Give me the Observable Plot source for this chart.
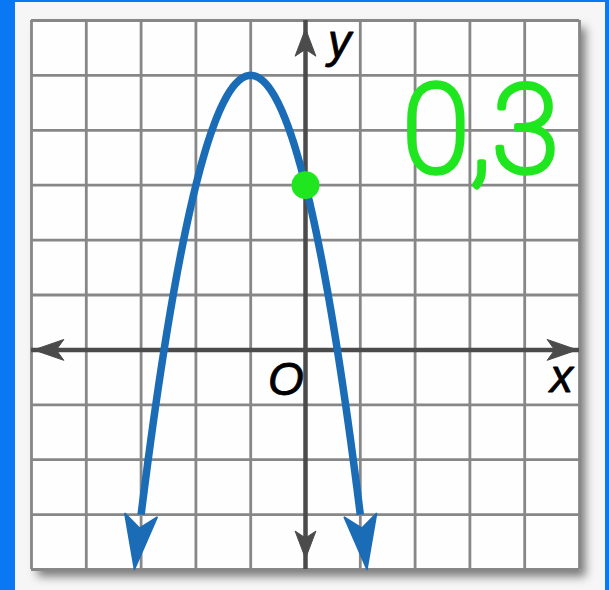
<!DOCTYPE html>
<html>
<head>
<meta charset="utf-8">
<script src="https://cdn.jsdelivr.net/npm/d3@7"></script>
<script src="https://cdn.jsdelivr.net/npm/@observablehq/plot@0.6"></script>
<style>
  html, body { margin: 0; padding: 0; background: #f6f6f6; }
  #wrap { position: relative; width: 609px; height: 590px; overflow: hidden; }
  #edge {
    position: absolute; left: 0; top: 0; width: 609px; height: 590px;
    box-sizing: border-box; pointer-events: none;
    border-left: 15px solid #0a78f2; border-top: 2px solid #0a78f2; border-right: 4px solid #0a78f2;
  }
  #wrap svg { display: block; }
</style>
</head>
<body>
<div id="wrap"><div id="edge"></div></div>
<script>
// Unit grid of the coordinate plane
const gridXValues = [-5, -4, -3, -2, -1, 0, 1, 2, 3, 4, 5];
const gridYValues = [-4, -3, -2, -1, 0, 1, 2, 3, 4, 5, 6];

// Parabola y = a·x² + b·x + c
const coefA = -2, coefB = -4, coefC = 3;
// The curve is drawn down to this y, then finished by arrowheads down to tipY
const curveEndY = -3;
const tipY = -4;

// Point marked on the graph (the y-intercept)
const markedPoint = [0, 3];

// Axis arrow tips: [x, y] pairs
const axisTipsX = [[-4.96, 0], [4.96, 0]];
const axisTipsY = [[0, 5.85], [0, -3.8]];

// Axis letters
const axisLetters = ["x", "y", "O"];

const f = (x) => coefA * x * x + coefB * x + coefC;
// both x where f(x) = level
function rootsAt(level) {
  const disc = Math.sqrt(coefB * coefB - 4 * coefA * (coefC - level));
  const r1 = (-coefB + disc) / (2 * coefA), r2 = (-coefB - disc) / (2 * coefA);
  return [Math.min(r1, r2), Math.max(r1, r2)];
}

const [xStart, xEnd] = rootsAt(curveEndY);
const [tipLeftX, tipRightX] = rootsAt(tipY);

const curvePts = d3.range(0, 401).map(i => {
  const x = xStart + (xEnd - xStart) * i / 400;
  return {x, y: f(x)};
});

// Notched arrowhead outline from base point toward tip (data units; the plane is square)
function arrowHead(id, base, tip, len, halfW, notch) {
  const dx = tip[0] - base[0], dy = tip[1] - base[1];
  const d = Math.hypot(dx, dy);
  const ux = dx / d, uy = dy / d, px = -uy, py = ux;
  const bx = tip[0] - ux * len, by = tip[1] - uy * len;
  const nx = tip[0] - ux * len * (1 - notch), ny = tip[1] - uy * len * (1 - notch);
  return [
    {id, x: tip[0], y: tip[1]},
    {id, x: bx + px * halfW, y: by + py * halfW},
    {id, x: nx, y: ny},
    {id, x: bx - px * halfW, y: by - py * halfW},
    {id, x: tip[0], y: tip[1]}
  ];
}

const curveArrows = [
  ...arrowHead("L", [xStart, curveEndY], [tipLeftX, tipY], 1.0, 0.3, 0.24),
  ...arrowHead("R", [xEnd, curveEndY], [tipRightX, tipY], 1.0, 0.3, 0.24)
];

const axisArrows = [
  ...arrowHead("xl", [0, 0], axisTipsX[0], 0.55, 0.19, 0.25),
  ...arrowHead("xr", [0, 0], axisTipsX[1], 0.55, 0.19, 0.25),
  ...arrowHead("yt", [0, 0], axisTipsY[0], 0.5, 0.19, 0.25),
  ...arrowHead("yb", [0, 0], axisTipsY[1], 0.5, 0.19, 0.25)
];

const letterSpots = [
  {t: axisLetters[0], x: 4.67, y: -0.49},
  {t: axisLetters[1], x: 0.62, y: 5.61},
  {t: axisLetters[2], x: -0.36, y: -0.55}
];

const gridColor = "#878787";
const axisColor = "#4b4b4b";
const curveColor = "#1b6cb6";
const green = "#1fe61f";

const chart = Plot.plot({
  width: 609,
  height: 590,
  marginLeft: 31,
  marginRight: 30,
  marginTop: 20,
  marginBottom: 21,
  x: {domain: [-5, 5], axis: null},
  y: {domain: [-4, 6], axis: null},
  style: {background: "transparent", overflow: "visible"},
  marks: [
    Plot.frame({fill: "#fefefe", stroke: "none"}),
    Plot.ruleX(gridXValues, {stroke: gridColor, strokeWidth: 2.8}),
    Plot.ruleY(gridYValues, {stroke: gridColor, strokeWidth: 2.8}),
    Plot.ruleY([0], {stroke: axisColor, strokeWidth: 4.5}),
    Plot.ruleX([0], {stroke: axisColor, strokeWidth: 4.5}),
    Plot.line(axisArrows, {x: "x", y: "y", z: "id", fill: axisColor, stroke: axisColor, strokeWidth: 1, strokeLinejoin: "miter"}),
    Plot.line(curvePts, {x: "x", y: "y", stroke: curveColor, strokeWidth: 7.5, strokeLinecap: "butt"}),
    Plot.line(curveArrows, {x: "x", y: "y", z: "id", fill: curveColor, stroke: curveColor, strokeWidth: 1.5, strokeLinejoin: "miter"}),
    Plot.dot([markedPoint], {x: d => d[0], y: d => d[1], r: 14, fill: green, stroke: "none"}),
    Plot.text([markedPoint], {
      x: 1.77, y: 3.95,
      text: d => `${d[0]},${d[1]}`,
      textAnchor: "start",
      fontFamily: "Roboto", fontWeight: 100, fontSize: 122,
      fill: green, stroke: green, strokeWidth: 5.5, strokeLinejoin: "round"
    }),
    Plot.text(letterSpots, {
      x: "x", y: "y", text: "t",
      fontFamily: "Liberation Sans", fontStyle: "italic", fontSize: 46,
      fill: "#000", stroke: "#000", strokeWidth: 0.8
    })
  ]
});

// soft drop shadow behind the grid sheet
d3.select(chart).select("[aria-label=frame]")
  .style("filter", "drop-shadow(6px 7px 5px rgba(0,0,0,0.5))");

document.getElementById("wrap").prepend(chart);
</script>
</body>
</html>
